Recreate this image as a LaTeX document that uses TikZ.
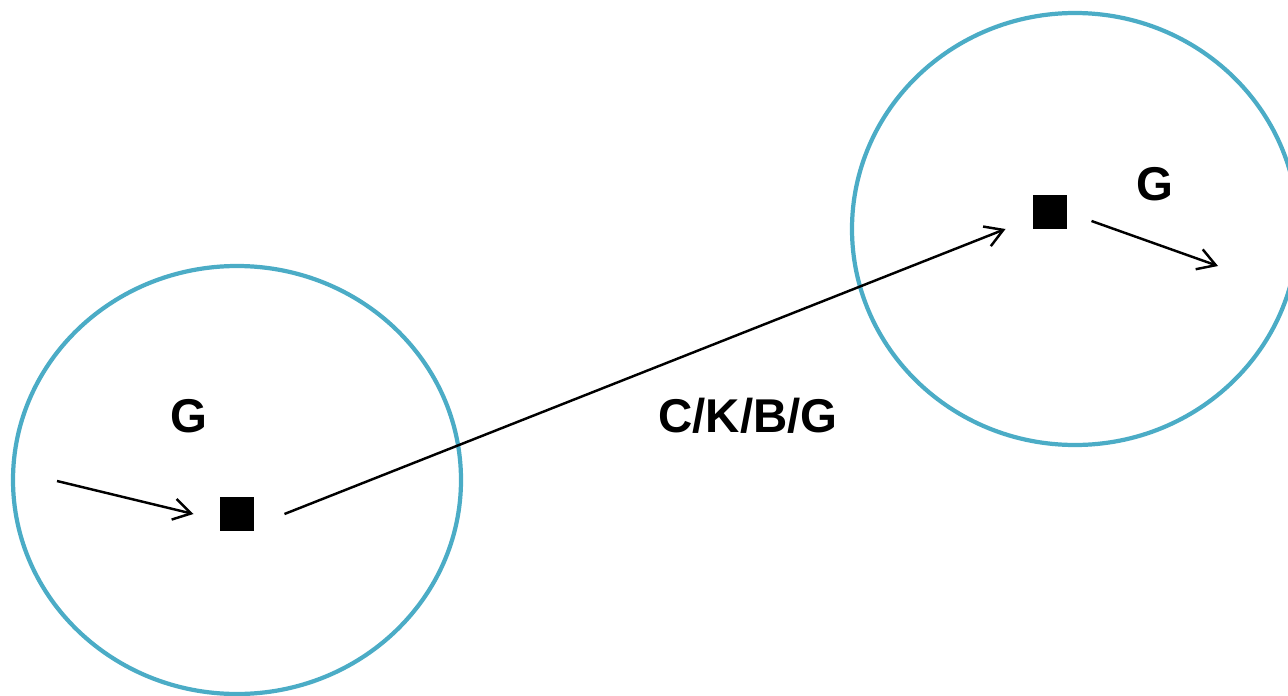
\documentclass[tikz,border=0pt]{standalone}
\usepackage{fontspec}
\setmainfont{Liberation Sans}
\usepackage{xcolor}
\usetikzlibrary{arrows.meta,positioning,calc}
\definecolor{ringblue}{HTML}{4BACC6}
\tikzset{
   ring/.style={draw=ringblue, line width=2.4pt},
   site/.style={draw, fill=black, minimum size=0.66cm, inner sep=0pt, outer sep=0pt},
   hop/.style={draw, line width=1.4pt, -{Straight Barb[length=10pt,width=12pt,line width=1.4pt]}},
   tag/.style={font=\bfseries\fontsize{27}{32}\selectfont, inner sep=0pt}
}
\begin{document}
\begin{tikzpicture}[x=0.02cm, y=-0.02cm]
    \useasboundingbox (0,0) rectangle (1288,696);
    % the two regions
    \draw[ring] (237,480) ellipse [x radius=224, y radius=214];
    \draw[ring] (1075,229) ellipse [x radius=223, y radius=216];

    % sites inside them
    \node[site] (siteA) at (237,514) {};
    \node[site] (siteB) at (1050,212) {};

    % free ends of the outer arrows
    \coordinate (inA) at (57,481);
    \coordinate (outB) at (1218,266);

    \draw[hop] (inA) -- ([xshift=-0.54cm]siteA.west);
    \draw[hop] ([xshift=0.62cm]siteA.east) -- ([shift={(-28,17)}]siteB.west);
    \draw[hop] ([shift={(25,9)}]siteB.east) -- (outB);

    % labels
    \node[tag] (tagA) at (189,416) {G};
    \node[tag] (tagB) at (1155,184) {G};
    \node[tag] (tagAB) at (748,416) {C/K/B/G};
\end{tikzpicture}
\end{document}
